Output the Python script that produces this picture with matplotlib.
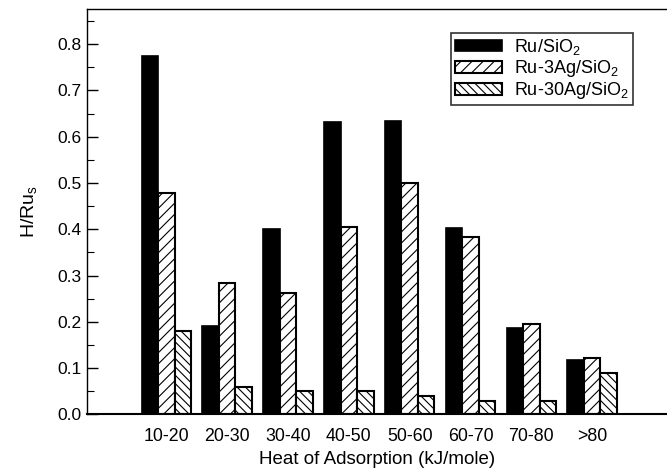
import matplotlib
matplotlib.use('Agg')
import matplotlib.pyplot as plt
import numpy as np
from matplotlib.ticker import MultipleLocator, FormatStrFormatter

plt.rcParams['font.family'] = ['Liberation Sans', 'DejaVu Sans']
plt.rcParams['mathtext.fontset'] = 'custom'
plt.rcParams['mathtext.rm'] = 'Liberation Sans'
plt.rcParams['hatch.linewidth'] = 0.8

# 数据
categories = ['10-20', '20-30', '30-40', '40-50', '50-60', '60-70', '70-80', '>80']
ru_sio2 = [0.775, 0.19, 0.40, 0.632, 0.635, 0.403, 0.187, 0.117]
ru_3ag = [0.478, 0.285, 0.262, 0.405, 0.50, 0.384, 0.195, 0.122]
ru_30ag = [0.18, 0.06, 0.05, 0.05, 0.04, 0.03, 0.03, 0.09]
series_labels = ['Ru/SiO$_\\mathregular{2}$', 'Ru-3Ag/SiO$_\\mathregular{2}$', 'Ru-30Ag/SiO$_\\mathregular{2}$']

fig = plt.figure(figsize=(6.67, 4.72), dpi=100)
ax = fig.add_axes([0.131, 0.122, 0.869, 0.858])

x = np.arange(len(categories))
w = 0.272
ax.bar(x - w, ru_sio2, w, color='black', edgecolor='black', linewidth=1.2, label=series_labels[0])
ax.bar(x, ru_3ag, w, color='white', edgecolor='black', linewidth=1.5, hatch='///', label=series_labels[1])
ax.bar(x + w, ru_30ag, w, color='white', edgecolor='black', linewidth=1.5, hatch='\\\\\\\\', label=series_labels[2])

ax.set_xlim(-1.298, 8.23)
ax.set_ylim(0, 0.875)
ax.set_xticks(x)
ax.set_xticklabels(categories, fontsize=12.8)
ax.tick_params(axis='x', length=0, pad=10)
ax.yaxis.set_major_locator(MultipleLocator(0.1))
ax.yaxis.set_minor_locator(MultipleLocator(0.05))
ax.tick_params(axis='y', which='major', direction='in', length=8, width=1, labelsize=12.5, pad=4)
ax.tick_params(axis='y', which='minor', direction='in', length=5, width=0.8)
ax.yaxis.set_major_formatter(FormatStrFormatter('%.1f'))
ax.spines['right'].set_visible(False)
for s in ['left', 'top']:
    ax.spines[s].set_linewidth(1.0)
ax.spines['bottom'].set_linewidth(1.5)

ax.set_xlabel('Heat of Adsorption (kJ/mole)', fontsize=13.5, labelpad=4)
ax.set_ylabel('H/Ru$_\\mathregular{s}$', fontsize=14, labelpad=13)

leg = ax.legend(loc='upper right', bbox_to_anchor=(0.941, 0.9415), borderaxespad=0,
                prop={'size': 13}, frameon=True, fancybox=False, edgecolor='black',
                handlelength=2.6, handleheight=0.6, labelspacing=0.06, borderpad=0.22,
                handletextpad=0.7)
leg.get_frame().set_linewidth(1.2)

fig.savefig('out.png', dpi=100)
